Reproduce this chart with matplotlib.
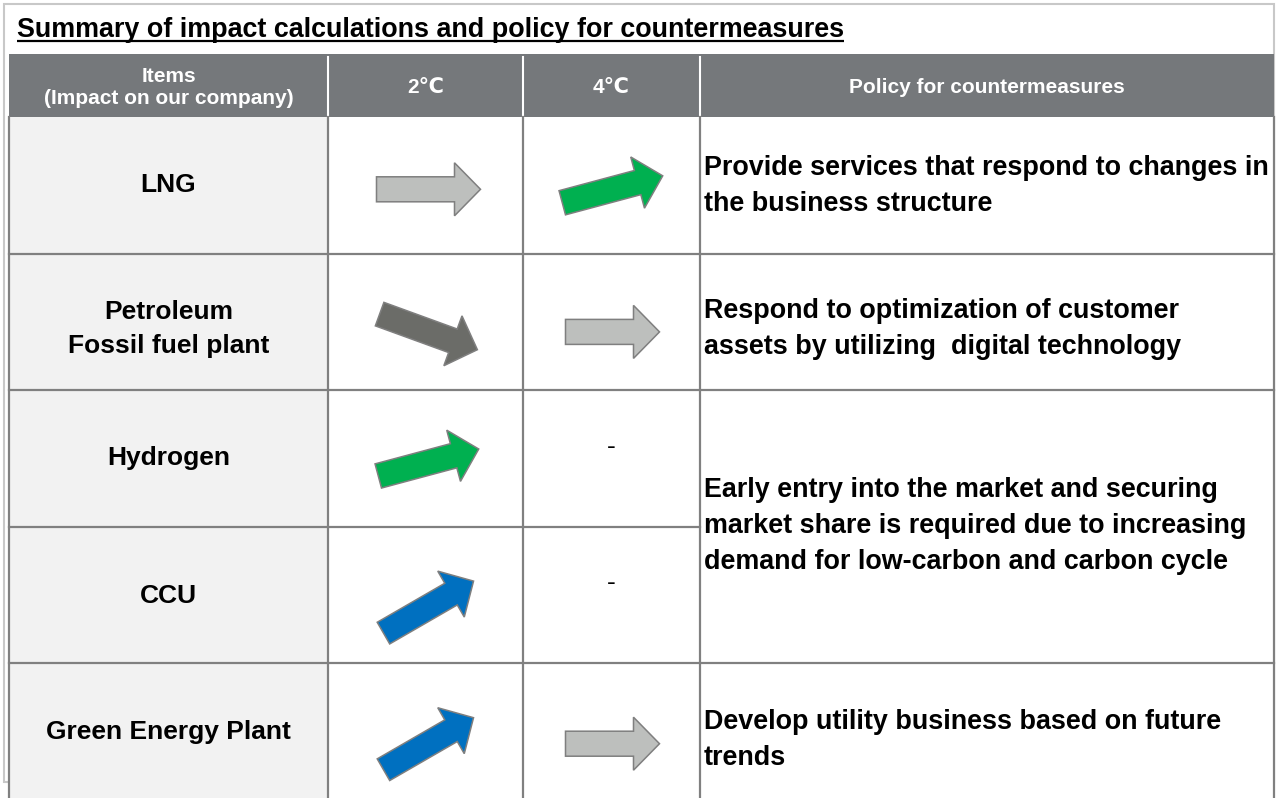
import numpy as np
import matplotlib
matplotlib.use("Agg")
import matplotlib.pyplot as plt
from matplotlib.patches import Rectangle, FancyArrow

plt.rcParams["font.family"] = ["Liberation Sans", "DejaVu Sans"]

TITLE = "Summary of impact calculations and policy for countermeasures"
HEADERS = ["Items\n(Impact on our company)", "2℃", "4℃", "Policy for countermeasures"]
ITEMS = ["LNG", "Petroleum\nFossil fuel plant", "Hydrogen", "CCU", "Green Energy Plant"]
# impact trend as arrow angle in degrees (0 = flat, + up, - down); None -> "-"
TREND_2C = [0, -20, 15, 30, 30]
TREND_4C = [15, 0, None, None, 0]
COLOR_2C = ["#BDBFBD", "#6B6C68", "#00B050", "#0070C0", "#0070C0"]
COLOR_4C = ["#00B050", "#BDBFBD", None, None, "#BDBFBD"]
POLICY = [
    "Provide services that respond to changes in\nthe business structure",
    "Respond to optimization of customer\nassets by utilizing  digital technology",
    "Early entry into the market and securing\nmarket share is required due to increasing\ndemand for low-carbon and carbon cycle",
    "Develop utility business based on future\ntrends",
]
POLICY_SPAN = [1, 1, 2, 1]   # rows covered by each policy cell

# layout (pixel coords, y down)
W, H = 1277, 798
COL_X = [9, 328, 523, 700, 1274]
HEAD_Y0, HEAD_Y1 = 54, 117
ROW_H = 136.6
ARROW_DY = [4, 10, 4, 12, 12]
ITEM_DY = [0, 7, 0, 1, 0]
POLICY_DY = [1, 7, -1, 8]
GRID = "#808080"
HEAD_BG = "#75787B"
ITEM_BG = "#F2F2F2"
ARROW_EC = "#7F7F7F"


def draw_arrow(ax, cx, cy, angle, color, length):
    a = np.radians(angle)
    ux, uy = np.cos(a), -np.sin(a)
    x0, y0 = cx - ux * length / 2, cy - uy * length / 2
    ax.add_patch(FancyArrow(x0, y0, ux * length, uy * length, width=25,
                            head_width=53, head_length=26,
                            length_includes_head=True,
                            fc=color, ec=ARROW_EC, lw=1.1, zorder=4))


def main():
    fig = plt.figure(figsize=(W / 100, H / 100), dpi=100)
    ax = fig.add_axes([0, 0, 1, 1])
    ax.set_xlim(0, W)
    ax.set_ylim(H, 0)
    ax.axis("off")

    # outer frame (sits under the table)
    ax.add_patch(Rectangle((3.5, 4), 1270, 778, fill=False, ec="#C8C8C8", lw=1.5, zorder=1))

    # title with underline
    t = ax.text(17, 37, TITLE, fontsize=19.4, fontweight="bold", va="baseline", ha="left")
    fig.canvas.draw()
    bb = t.get_window_extent().transformed(ax.transData.inverted())
    ax.plot([bb.x0, bb.x1], [41, 41], color="black", lw=1.6, solid_capstyle="butt")

    # header
    ax.add_patch(Rectangle((COL_X[0], HEAD_Y0), COL_X[-1] - COL_X[0], HEAD_Y1 - HEAD_Y0,
                           fc=HEAD_BG, ec="none", zorder=2))
    for x in COL_X[1:-1]:
        ax.plot([x, x], [HEAD_Y0 + 3, HEAD_Y1], color="white", lw=1.5, zorder=3)
    for j, h in enumerate(HEADERS):
        ax.text((COL_X[j] + COL_X[j + 1]) / 2, (HEAD_Y0 + HEAD_Y1) / 2 + 2, h,
                color="white", fontsize=15, fontweight="bold", ha="center",
                va="center", linespacing=1.25, zorder=4)

    n = len(ITEMS)
    row_top = [HEAD_Y1 + i * ROW_H for i in range(n + 1)]

    # cell backgrounds
    ax.add_patch(Rectangle((COL_X[1], HEAD_Y1), COL_X[-1] - COL_X[1], row_top[-1] - HEAD_Y1,
                           fc="white", ec="none", zorder=2))
    ax.add_patch(Rectangle((COL_X[0], HEAD_Y1), COL_X[1] - COL_X[0], row_top[-1] - HEAD_Y1,
                           fc=ITEM_BG, ec="none", zorder=2))

    # grid lines
    for x in COL_X:
        ax.plot([x, x], [HEAD_Y1, row_top[-1]], color=GRID, lw=1.6, zorder=3)
    r = 0
    for span in POLICY_SPAN:
        for k in range(1, span):
            y = row_top[r + k]
            ax.plot([COL_X[0], COL_X[3]], [y, y], color=GRID, lw=1.6, zorder=3)
        r += span
        if r < n:
            ax.plot([COL_X[0], COL_X[-1]], [row_top[r], row_top[r]], color=GRID, lw=1.6, zorder=3)

    for i, item in enumerate(ITEMS):
        cy = (row_top[i] + row_top[i + 1]) / 2
        ax.text((COL_X[0] + COL_X[1]) / 2, cy + ITEM_DY[i], item, fontsize=19, fontweight="bold",
                ha="center", va="center", linespacing=1.55, zorder=4)
        for c, (trend, col) in enumerate([(TREND_2C[i], COLOR_2C[i]), (TREND_4C[i], COLOR_4C[i])]):
            cx = (COL_X[1 + c] + COL_X[2 + c]) / 2
            if trend is None:
                ax.text(cx, cy - 12, "-", fontsize=19, ha="center", va="center", zorder=4)
                continue
            length = 94 if (c == 1 and trend == 0) else 104
            draw_arrow(ax, cx + (3 if c == 0 else 1), cy + ARROW_DY[i], trend, col, length)

    r = 0
    for k, (text, span) in enumerate(zip(POLICY, POLICY_SPAN)):
        cy = (row_top[r] + row_top[r + span]) / 2
        ax.text(COL_X[3] + 4, cy + POLICY_DY[k], text, fontsize=19.4, fontweight="bold",
                ha="left", va="center", linespacing=1.5, zorder=4)
        r += span

    fig.savefig("out.png", dpi=100)


if __name__ == "__main__":
    main()
